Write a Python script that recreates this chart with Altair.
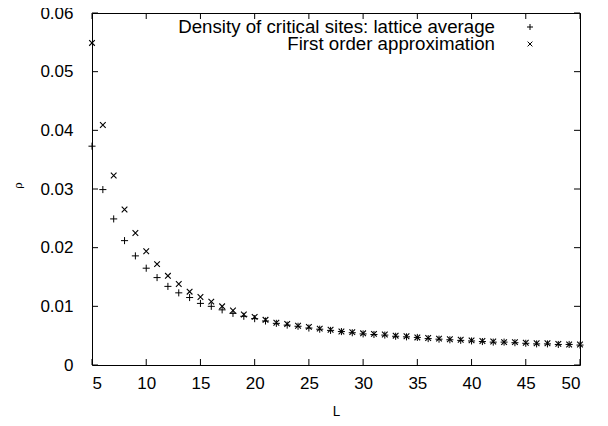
import altair as alt
import pandas as pd

L_values = list(range(5, 51))
lattice_avg = [0.0373, 0.0299, 0.0249, 0.0212, 0.0186, 0.0165, 0.0149, 0.0134, 0.0123, 0.0115,
               0.0105, 0.0100, 0.0094, 0.0088, 0.0083, 0.0079, 0.0075, 0.0071, 0.0068, 0.0066,
               0.0063, 0.0061, 0.0059, 0.0057, 0.0055, 0.0053, 0.0052, 0.0051, 0.0049, 0.0048,
               0.0047, 0.0045, 0.0044, 0.0043, 0.0042, 0.0041, 0.0040, 0.0039, 0.0039, 0.0038,
               0.0037, 0.0036, 0.0036, 0.0035, 0.0035, 0.0034]
first_order = [0.0549, 0.0409, 0.0323, 0.0265, 0.0225, 0.0194, 0.0172, 0.0152, 0.0138, 0.0125,
               0.0116, 0.0108, 0.0100, 0.0093, 0.0086, 0.0082, 0.0077, 0.0072, 0.0070, 0.0067,
               0.0065, 0.0062, 0.0060, 0.0057, 0.0056, 0.0054, 0.0053, 0.0052, 0.0050, 0.0049,
               0.0047, 0.0046, 0.0045, 0.0044, 0.0043, 0.0042, 0.0041, 0.0040, 0.0039, 0.0039,
               0.0038, 0.0037, 0.0037, 0.0036, 0.0035, 0.0035]
series_names = ["Density of critical sites: lattice average", "First order approximation"]
x_ticks = [5, 10, 15, 20, 25, 30, 35, 40, 45, 50]
y_ticks = [0, 0.01, 0.02, 0.03, 0.04, 0.05, 0.06]

df = pd.DataFrame({
    "L": L_values + L_values,
    "rho": lattice_avg + first_order,
    "series": [series_names[0]] * len(L_values) + [series_names[1]] * len(L_values),
})
legend_df = pd.DataFrame({"label": series_names})
xt_df = pd.DataFrame({"v": x_ticks})
yt_df = pd.DataFrame({"v": y_ticks})

PLUS = "M-1,0L1,0M0,-1L0,1"
CROSS = "M-0.8,-0.8L0.8,0.8M-0.8,0.8L0.8,-0.8"

W, H = 488, 352
TICK = 6
FONT = "Liberation Sans"

xs = alt.Scale(domain=[5, 50], nice=False, zero=False)
ys = alt.Scale(domain=[0, 0.06], nice=False, zero=False)

base = alt.Chart(df)

plus_layer = base.transform_filter(alt.datum.series == series_names[0]).mark_point(
    shape=PLUS, size=50, filled=False, stroke="black", strokeWidth=1, opacity=1
).encode(
    x=alt.X("L:Q", scale=xs, axis=alt.Axis(
        orient="bottom", values=x_ticks, tickSize=0, domain=False, grid=False,
        labelFont=FONT, labelFontSize=17, labelColor="black", labelPadding=10, format="d",
        title="L", titleFont="Liberation Mono", titleFontSize=14, titleFontWeight="normal",
        titleColor="black", titleY=46, titleBaseline="middle")),
    y=alt.Y("rho:Q", scale=ys, axis=alt.Axis(
        orient="left", values=y_ticks, tickSize=0, domain=False, grid=False,
        labelFont=FONT, labelFontSize=17, labelColor="black", labelPadding=19,
        labelExpr="datum.value == 0 ? '0' : format(datum.value, '.2f')",
        title="ρ", titleFont="DejaVu Serif", titleFontSize=11, titleFontWeight="normal",
        titleColor="black", titleX=-74, titleY=172, titleBaseline="middle")),
)

cross_layer = base.transform_filter(alt.datum.series == series_names[1]).mark_point(
    shape=CROSS, size=50, filled=False, stroke="black", strokeWidth=1.1, opacity=1
).encode(
    x=alt.X("L:Q", scale=xs),
    y=alt.Y("rho:Q", scale=ys),
)

# inward tick marks on all four sides, at the tick values
xt = alt.Chart(xt_df).mark_rule(color="black", strokeWidth=1)
yt = alt.Chart(yt_df).mark_rule(color="black", strokeWidth=1)
tick_bottom = xt.encode(x=alt.X("v:Q", scale=xs), y=alt.value(H), y2=alt.value(H - TICK))
tick_top = xt.encode(x=alt.X("v:Q", scale=xs), y=alt.value(0), y2=alt.value(TICK))
tick_left = yt.encode(y=alt.Y("v:Q", scale=ys), x=alt.value(0), x2=alt.value(TICK))
tick_right = yt.encode(y=alt.Y("v:Q", scale=ys), x=alt.value(W), x2=alt.value(W - TICK))

LEG_FS = 18.7
LEG_Y1, LEG_Y2 = 14, 31
leg_text1 = alt.Chart(legend_df).transform_filter(alt.datum.label == series_names[0]).mark_text(
    align="right", baseline="middle", font=FONT, fontSize=LEG_FS, color="black"
).encode(text="label:N", x=alt.value(403), y=alt.value(LEG_Y1))
leg_text2 = alt.Chart(legend_df).transform_filter(alt.datum.label == series_names[1]).mark_text(
    align="right", baseline="middle", font=FONT, fontSize=LEG_FS, color="black"
).encode(text="label:N", x=alt.value(403), y=alt.value(LEG_Y2))
leg_sym1 = alt.Chart(legend_df).transform_filter(alt.datum.label == series_names[0]).mark_point(
    shape=PLUS, size=36, filled=False, stroke="black", strokeWidth=1, opacity=1
).encode(x=alt.value(438), y=alt.value(LEG_Y1))
leg_sym2 = alt.Chart(legend_df).transform_filter(alt.datum.label == series_names[1]).mark_point(
    shape=CROSS, size=36, filled=False, stroke="black", strokeWidth=1, opacity=1
).encode(x=alt.value(438), y=alt.value(LEG_Y2))

chart = alt.layer(
    plus_layer, cross_layer, tick_bottom, tick_top, tick_left, tick_right,
    leg_text1, leg_text2, leg_sym1, leg_sym2
).properties(
    width=W, height=H,
    padding={"left": 84, "top": 5, "right": 20, "bottom": 53},
    autosize=alt.AutoSizeParams(type="none"),
    background="white",
).configure_view(stroke="black", strokeWidth=1)

chart.save("out.html", embed_options={"renderer": "svg", "actions": False})
